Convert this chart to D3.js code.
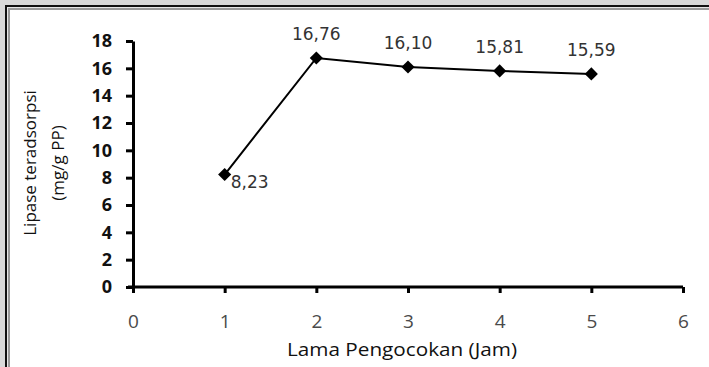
<!DOCTYPE html>
<html>
<head>
<meta charset="utf-8">
<script src="https://cdn.jsdelivr.net/npm/d3@7"></script>
<style>
  html, body { margin: 0; padding: 0; background: #d9d9d9; }
  svg { display: block; }
</style>
</head>
<body>
<svg id="chart" width="709" height="367"></svg>
<script>
// Lipase adsorbed vs shaking time
const hours = [1, 2, 3, 4, 5];
const lipase = [8.23, 16.76, 16.10, 15.81, 15.59];
const valueLabels = ["8,23", "16,76", "16,10", "15,81", "15,59"];
const xTicks = [0, 1, 2, 3, 4, 5, 6];
const yTicks = [0, 2, 4, 6, 8, 10, 12, 14, 16, 18];
const xTitle = "Lama Pengocokan (Jam)";
const yTitle = ["Lipase teradsorpsi", "(mg/g PP)"];

const W = 709, H = 367;
const svg = d3.select("#chart");

// frame: grey margin, black outer rule, grey inner rule, white panel
svg.append("rect").attr("x", 0).attr("y", 0).attr("width", W).attr("height", H).attr("fill", "#d9d9d9");
svg.append("rect").attr("x", 5).attr("y", 5).attr("width", W - 5).attr("height", H - 5).attr("fill", "#111");
svg.append("rect").attr("x", 7).attr("y", 7).attr("width", W - 7).attr("height", H - 7).attr("fill", "#e8e8e8");
svg.append("rect").attr("x", 8).attr("y", 8).attr("width", W - 8).attr("height", H - 8).attr("fill", "#9a9a9a");
svg.append("rect").attr("x", 10).attr("y", 10).attr("width", W - 10).attr("height", H - 10).attr("fill", "#ffffff");

const x = d3.scaleLinear().domain([0, 6]).range([133, 683]);
const y = d3.scaleLinear().domain([0, 18]).range([287, 41]);

// y axis
const yAxis = svg.append("g").attr("transform", `translate(${x(0)},0)`)
  .call(d3.axisLeft(y).tickValues(yTicks).tickSize(7).tickPadding(14).tickSizeOuter(0));
yAxis.select(".domain").attr("stroke", "#000").attr("stroke-width", 3);
yAxis.selectAll(".tick line").attr("stroke", "#000").attr("stroke-width", 3);
yAxis.selectAll(".tick text")
  .attr("font-family", "'Open Sans', sans-serif").attr("font-weight", "bold")
  .attr("font-size", 18).attr("fill", "#111");

// x axis
const xAxis = svg.append("g").attr("transform", `translate(0,${y(0)})`)
  .call(d3.axisBottom(x).tickValues(xTicks).tickFormat(d3.format("d"))
    .tickSize(6).tickPadding(22).tickSizeOuter(0));
xAxis.select(".domain").attr("stroke", "#000").attr("stroke-width", 3)
  .attr("d", `M${x(0) - 5},0H${x(6)}`);
xAxis.selectAll(".tick line").attr("stroke", "#000").attr("stroke-width", 3);
xAxis.selectAll(".tick text")
  .attr("font-family", "'Open Sans', sans-serif")
  .attr("font-size", 19).attr("fill", "#4a4a4a");

// axis titles
svg.append("text").attr("x", 402).attr("y", 356)
  .attr("text-anchor", "middle")
  .attr("font-family", "'Open Sans', sans-serif").attr("font-size", 18).attr("fill", "#111")
  .attr("textLength", 230).attr("lengthAdjust", "spacingAndGlyphs")
  .text(xTitle);

const yt = svg.append("text")
  .attr("transform", `translate(0,163) rotate(-90)`)
  .attr("text-anchor", "middle")
  .attr("font-family", "'Open Sans', sans-serif").attr("font-size", 17).attr("fill", "#111");
yt.append("tspan").attr("x", 0).attr("y", 36).text(yTitle[0]);
yt.append("tspan").attr("x", 0).attr("y", 64).text(yTitle[1]);

// series line
const pts = hours.map((h, i) => [h, lipase[i]]);
svg.append("path").datum(pts)
  .attr("fill", "none").attr("stroke", "#000").attr("stroke-width", 2)
  .attr("d", d3.line().x(d => x(d[0])).y(d => y(d[1])));

// diamond markers
svg.selectAll(".mk").data(pts).enter().append("path")
  .attr("class", "mk")
  .attr("transform", d => `translate(${x(d[0])},${y(d[1])})`)
  .attr("d", d3.symbol().type(d3.symbolDiamond2).size(110))
  .attr("fill", "#000");

// value labels: first point to the right, the others above
svg.selectAll(".lbl").data(pts).enter().append("text")
  .attr("class", "lbl")
  .attr("x", (d, i) => i === 0 ? x(d[0]) + 6 : x(d[0]))
  .attr("y", (d, i) => i === 0 ? y(d[1]) + 13 : y(d[1]) - 18)
  .attr("text-anchor", (d, i) => i === 0 ? "start" : "middle")
  .attr("font-family", "'DejaVu Sans', sans-serif").attr("font-size", 17).attr("fill", "#333")
  .text((d, i) => valueLabels[i]);
</script>
</body>
</html>
